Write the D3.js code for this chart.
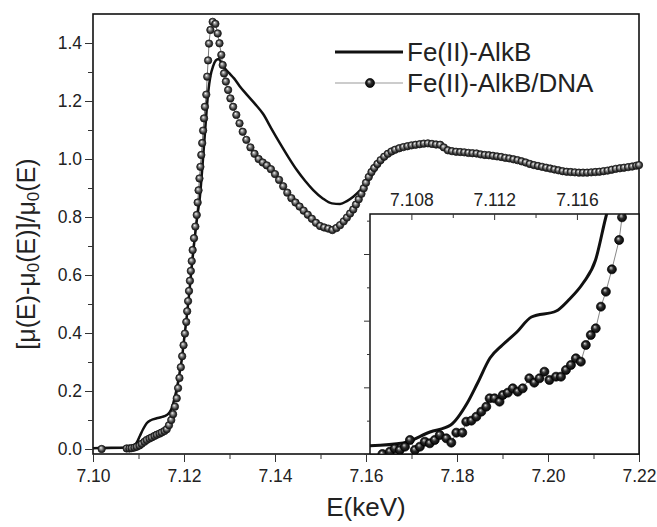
<!DOCTYPE html>
<html>
<head>
<meta charset="utf-8">
<script src="https://cdn.jsdelivr.net/npm/d3@7"></script>
<style>
  body { margin: 0; background: #fff; }
  text { font-family: "Liberation Sans", Arial, sans-serif; fill: #222; }
</style>
</head>
<body>
<div id="chart"></div>
<script>
// Fe(II)-AlkB (solid line), main panel
const alkbE = [7.1000, 7.1040, 7.1080, 7.1090, 7.1097, 7.1103, 7.1110, 7.1118, 7.1128, 7.1140,
  7.1152, 7.1162, 7.1169, 7.1175, 7.1180, 7.1185, 7.1190, 7.1195, 7.1200, 7.1206,
  7.1212, 7.1217, 7.1223, 7.1229, 7.1235, 7.1241, 7.1246, 7.1253, 7.1258, 7.1264,
  7.1270, 7.1276, 7.1282, 7.1290, 7.1300, 7.1310, 7.1322, 7.1338, 7.1356, 7.1374,
  7.1392, 7.1411, 7.1430, 7.1448, 7.1466, 7.1484, 7.1505, 7.1525, 7.1543, 7.1558,
  7.1572, 7.1587, 7.1601, 7.1620, 7.1638, 7.1660, 7.1690, 7.1715, 7.1741, 7.1763,
  7.1785, 7.1820, 7.1857, 7.1895, 7.1931, 7.1968, 7.2004, 7.2041, 7.2078, 7.2115,
  7.2151, 7.2200];
const alkbMu = [0.003, 0.004, 0.006, 0.012, 0.025, 0.045, 0.068, 0.089, 0.100, 0.106,
  0.111, 0.117, 0.128, 0.150, 0.180, 0.215, 0.260, 0.307, 0.375, 0.456,
  0.545, 0.629, 0.720, 0.800, 0.870, 0.985, 1.089, 1.227, 1.285, 1.320,
  1.340, 1.345, 1.333, 1.312, 1.295, 1.278, 1.252, 1.222, 1.190, 1.155,
  1.105, 1.054, 1.005, 0.962, 0.925, 0.893, 0.864, 0.847, 0.845, 0.855,
  0.870, 0.892, 0.916, 0.960, 0.997, 1.025, 1.042, 1.050, 1.054, 1.045,
  1.031, 1.020, 1.012, 1.002, 0.991, 0.978, 0.966, 0.960, 0.960, 0.963,
  0.968, 0.979];

// Fe(II)-AlkB/DNA (balls), main panel
const dnaE = [7.1019, 7.1074, 7.1080, 7.1085, 7.1091, 7.1096, 7.1102, 7.1107, 7.1113, 7.1118,
  7.1124, 7.1129, 7.1135, 7.1140, 7.1146, 7.1151, 7.1157, 7.1162, 7.1167, 7.1172,
  7.1176, 7.1180, 7.1184, 7.1187, 7.1190, 7.1193, 7.1196, 7.1199, 7.1202, 7.1205,
  7.1207, 7.1209, 7.1211, 7.1213, 7.1215, 7.1217, 7.1219, 7.1222, 7.1225, 7.1228,
  7.1230, 7.1232, 7.1234, 7.1236, 7.1238, 7.1240, 7.1242, 7.1244, 7.1246, 7.1249,
  7.1251, 7.1253, 7.1255, 7.1258, 7.1263, 7.1269, 7.1274, 7.1278, 7.1282, 7.1285,
  7.1288, 7.1292, 7.1297, 7.1302, 7.1308, 7.1315, 7.1322, 7.1329, 7.1337, 7.1346,
  7.1355, 7.1364, 7.1373, 7.1382, 7.1391, 7.1400, 7.1409, 7.1418, 7.1427, 7.1436,
  7.1445, 7.1454, 7.1463, 7.1472, 7.1481, 7.1490, 7.1499, 7.1508, 7.1517, 7.1526,
  7.1535, 7.1543, 7.1551, 7.1558, 7.1565, 7.1572, 7.1578, 7.1584, 7.1590, 7.1595,
  7.1600, 7.1606, 7.1612, 7.1618, 7.1625, 7.1632, 7.1640, 7.1648, 7.1656, 7.1664,
  7.1673, 7.1682, 7.1691, 7.1700, 7.1709, 7.1718, 7.1727, 7.1736, 7.1745, 7.1754,
  7.1763, 7.1771, 7.1780, 7.1789, 7.1798, 7.1807, 7.1816, 7.1825, 7.1834, 7.1843,
  7.1852, 7.1861, 7.1870, 7.1879, 7.1888, 7.1897, 7.1906, 7.1915, 7.1924, 7.1933,
  7.1942, 7.1951, 7.1960, 7.1969, 7.1978, 7.1987, 7.1996, 7.2005, 7.2014, 7.2023,
  7.2032, 7.2041, 7.2050, 7.2059, 7.2068, 7.2077, 7.2086, 7.2095, 7.2104, 7.2113,
  7.2122, 7.2131, 7.2140, 7.2149, 7.2158, 7.2167, 7.2176, 7.2185, 7.2194, 7.2200];
const dnaMu = [0.000, 0.002, 0.002, 0.003, 0.005, 0.008, 0.012, 0.018, 0.025, 0.031,
  0.036, 0.040, 0.045, 0.049, 0.053, 0.057, 0.062, 0.068, 0.082, 0.100,
  0.120, 0.146, 0.175, 0.210, 0.245, 0.282, 0.320, 0.358, 0.398, 0.438,
  0.475, 0.510, 0.545, 0.580, 0.614, 0.648, 0.686, 0.727, 0.767, 0.807,
  0.850, 0.892, 0.933, 0.973, 1.014, 1.055, 1.098, 1.140, 1.180, 1.222,
  1.284, 1.340, 1.398, 1.445, 1.473, 1.466, 1.433, 1.399, 1.359, 1.324,
  1.295, 1.267, 1.238, 1.209, 1.180, 1.152, 1.123, 1.094, 1.066, 1.040,
  1.018, 1.000, 0.988, 0.978, 0.965, 0.948, 0.928, 0.906, 0.884, 0.865,
  0.850, 0.836, 0.822, 0.808, 0.794, 0.780, 0.769, 0.764, 0.760, 0.755,
  0.762, 0.772, 0.785, 0.798, 0.812, 0.826, 0.843, 0.861, 0.880, 0.899,
  0.918, 0.938, 0.955, 0.969, 0.983, 0.996, 1.008, 1.018, 1.026, 1.032,
  1.037, 1.041, 1.044, 1.047, 1.049, 1.051, 1.053, 1.054, 1.052, 1.050,
  1.049, 1.040, 1.030, 1.027, 1.025, 1.024, 1.023, 1.021, 1.020, 1.019,
  1.016, 1.014, 1.013, 1.011, 1.009, 1.007, 1.004, 1.002, 0.999, 0.996,
  0.992, 0.988, 0.983, 0.979, 0.976, 0.973, 0.970, 0.967, 0.964, 0.961,
  0.958, 0.956, 0.955, 0.954, 0.953, 0.953, 0.953, 0.954, 0.955, 0.956,
  0.958, 0.960, 0.963, 0.966, 0.968, 0.970, 0.972, 0.974, 0.977, 0.979];

// inset (pre-edge), own scale
const insetAlkbE = [7.1058, 7.1076, 7.1089, 7.1099, 7.1107, 7.1112, 7.1118, 7.1124, 7.1131, 7.1138,
  7.1150, 7.1156, 7.1163, 7.1169, 7.1174, 7.1178];
const insetAlkbMu = [0.0048, 0.0066, 0.0132, 0.0174, 0.0306, 0.0426, 0.0576, 0.0654, 0.0732, 0.0822,
  0.0858, 0.0924, 0.1026, 0.1164, 0.1422, 0.1600];
const insetDnaE = [7.1066, 7.10696, 7.1072, 7.10744, 7.10769, 7.10793, 7.10817, 7.10841, 7.10865, 7.10889,
  7.10913, 7.10937, 7.10969, 7.10993, 7.11017, 7.11046, 7.11065, 7.11090, 7.11114, 7.11138,
  7.11162, 7.11178, 7.11202, 7.11226, 7.11242, 7.11266, 7.11290, 7.11314, 7.11338, 7.11370,
  7.11394, 7.11419, 7.11443, 7.11467, 7.11499, 7.11523, 7.11547, 7.11571, 7.11595, 7.11619,
  7.11643, 7.11667, 7.11691, 7.11716, 7.11740, 7.11769, 7.11804, 7.11818];
const insetDnaMu = [0.0000, 0.0014, 0.0034, 0.0024, 0.0044, 0.0084, 0.0024, 0.0044, 0.0074, 0.0064,
  0.0084, 0.0114, 0.0094, 0.0068, 0.0128, 0.0128, 0.0194, 0.0200, 0.0224, 0.0254,
  0.0284, 0.0334, 0.0334, 0.0314, 0.0354, 0.0368, 0.0394, 0.0374, 0.0394, 0.0454,
  0.0428, 0.0454, 0.0494, 0.0444, 0.0464, 0.0464, 0.0504, 0.0534, 0.0574, 0.0554,
  0.0654, 0.0714, 0.0754, 0.0884, 0.0974, 0.1108, 0.1284, 0.1420];

const xTicks = [7.10, 7.12, 7.14, 7.16, 7.18, 7.20, 7.22];
const xMinor = [7.11, 7.13, 7.15, 7.17, 7.19, 7.21];
const yTicks = [0, 0.2, 0.4, 0.6, 0.8, 1.0, 1.2, 1.4];
const yMinor = [0.1, 0.3, 0.5, 0.7, 0.9, 1.1, 1.3];
const insetXTicks = [7.108, 7.112, 7.116];
const insetXMinor = [7.110, 7.114, 7.118];
const insetYTicks = [0, 0.04, 0.08, 0.12];
const insetYMinor = [0.02, 0.06, 0.10, 0.14];
const seriesNames = ["Fe(II)-AlkB", "Fe(II)-AlkB/DNA"];

const width = 657, height = 527;
const margin = { top: 14, right: 18, bottom: 73, left: 93 };

const svg = d3.select("#chart").append("svg")
    .attr("width", width)
    .attr("height", height);

// ball markers: grey for the main panel, darker for inset and legend
const defs = svg.append("defs");
function ballGradient(id, stops) {
    const g = defs.append("radialGradient")
        .attr("id", id)
        .attr("cx", "50%").attr("cy", "50%").attr("r", "55%")
        .attr("fx", "38%").attr("fy", "32%");
    stops.forEach(s => g.append("stop").attr("offset", s[0]).attr("stop-color", s[1]));
}
ballGradient("ball", [["0%", "#ffffff"], ["22%", "#b0b0b0"], ["65%", "#404040"], ["100%", "#0a0a0a"]]);
ballGradient("ballDark", [["0%", "#ffffff"], ["14%", "#9a9a9a"], ["45%", "#2a2a2a"], ["100%", "#000"]]);

const x = d3.scaleLinear().domain([7.10, 7.22]).range([margin.left, width - margin.right]);
const y = d3.scaleLinear().domain([-0.0172, 1.5]).range([height - margin.bottom, margin.top]);

const alkb = alkbE.map((e, i) => ({ e, v: alkbMu[i] }));
const dna = dnaE.map((e, i) => ({ e, v: dnaMu[i] }));

// main frame
svg.append("rect")
    .attr("x", margin.left).attr("y", margin.top)
    .attr("width", width - margin.left - margin.right)
    .attr("height", height - margin.top - margin.bottom)
    .attr("fill", "none").attr("stroke", "#111").attr("stroke-width", 1.6);

const line = d3.line().x(d => x(d.e)).y(d => y(d.v)).curve(d3.curveMonotoneX);

svg.append("path").datum(dna)
    .attr("d", d3.line().x(d => x(d.e)).y(d => y(d.v)))
    .attr("fill", "none").attr("stroke", "#777").attr("stroke-width", 1);

svg.append("path").datum(alkb)
    .attr("d", line)
    .attr("fill", "none").attr("stroke", "#111").attr("stroke-width", 2.5);

svg.selectAll(".dot").data(dna).enter().append("circle")
    .attr("class", "dot")
    .attr("cx", d => x(d.e)).attr("cy", d => y(d.v))
    .attr("r", 3.7)
    .attr("fill", "url(#ball)")
    .attr("stroke", "#1a1a1a").attr("stroke-width", 0.8);

// axes
const xAxis = svg.append("g").attr("transform", `translate(0,${height - margin.bottom})`);
xAxis.call(d3.axisBottom(x).tickValues(xTicks).tickFormat(d3.format(".2f")).tickSize(8).tickPadding(8));
xAxis.append("g").call(d3.axisBottom(x).tickValues(xMinor).tickFormat("").tickSize(5));

const yAxis = svg.append("g").attr("transform", `translate(${margin.left},0)`);
yAxis.call(d3.axisLeft(y).tickValues(yTicks).tickFormat(d3.format(".1f")).tickSize(8).tickPadding(3));
yAxis.append("g").call(d3.axisLeft(y).tickValues(yMinor).tickFormat("").tickSize(5));

svg.selectAll(".domain").remove();
svg.selectAll(".tick line").attr("stroke", "#333").attr("stroke-width", 1);
svg.selectAll(".tick text").style("font-size", "17.5px").attr("fill", "#333");

// inset
const xi = d3.scaleLinear().domain([7.106, 7.119]).range([370, width - margin.right]);
const yi = d3.scaleLinear().domain([0, 0.144]).range([height - margin.bottom, 214]);

const inset = svg.append("g");
inset.append("clipPath").attr("id", "insetClip").append("rect")
    .attr("x", xi.range()[0]).attr("y", yi.range()[1])
    .attr("width", xi.range()[1] - xi.range()[0])
    .attr("height", yi.range()[0] - yi.range()[1]);

inset.append("rect")
    .attr("x", xi.range()[0]).attr("y", yi.range()[1])
    .attr("width", xi.range()[1] - xi.range()[0])
    .attr("height", yi.range()[0] - yi.range()[1])
    .attr("fill", "#fff").attr("stroke", "#111").attr("stroke-width", 1.5);

const insetAlkb = insetAlkbE.map((e, i) => ({ e, v: insetAlkbMu[i] }));
const insetDna = insetDnaE.map((e, i) => ({ e, v: insetDnaMu[i] }));

const plotI = inset.append("g").attr("clip-path", "url(#insetClip)");
plotI.append("path").datum(insetDna)
    .attr("d", d3.line().x(d => xi(d.e)).y(d => yi(d.v)))
    .attr("fill", "none").attr("stroke", "#888").attr("stroke-width", 1);
plotI.append("path").datum(insetAlkb)
    .attr("d", d3.line().x(d => xi(d.e)).y(d => yi(d.v)).curve(d3.curveMonotoneX))
    .attr("fill", "none").attr("stroke", "#111").attr("stroke-width", 3);
plotI.selectAll(".idot").data(insetDna).enter().append("circle")
    .attr("class", "idot")
    .attr("cx", d => xi(d.e)).attr("cy", d => yi(d.v))
    .attr("r", 4.5)
    .attr("fill", "url(#ballDark)")
    .attr("stroke", "#000").attr("stroke-width", 0.7);

const ixAxis = inset.append("g").attr("transform", `translate(0,${yi.range()[1]})`);
ixAxis.call(d3.axisTop(xi).tickValues(insetXTicks).tickFormat(d3.format(".3f")).tickSizeInner(-6).tickSizeOuter(0).tickPadding(8));
ixAxis.append("g").call(d3.axisTop(xi).tickValues(insetXMinor).tickFormat("").tickSizeInner(-4).tickSizeOuter(0));
const iyAxis = inset.append("g").attr("transform", `translate(${xi.range()[0]},0)`);
iyAxis.call(d3.axisLeft(yi).tickValues(insetYTicks).tickFormat("").tickSize(6));
iyAxis.append("g").call(d3.axisLeft(yi).tickValues(insetYMinor).tickFormat("").tickSize(3));
inset.selectAll(".domain").remove();
inset.selectAll(".tick line").attr("stroke", "#333").attr("stroke-width", 1);
inset.selectAll(".tick text").style("font-size", "17.5px").attr("fill", "#333");

// legend
const legend = svg.append("g");
legend.append("line").attr("x1", 335).attr("x2", 403).attr("y1", 52).attr("y2", 52)
    .attr("stroke", "#111").attr("stroke-width", 3);
legend.append("text").attr("x", 407).attr("y", 61).style("font-size", "26px").text(seriesNames[0]);
legend.append("line").attr("x1", 335).attr("x2", 403).attr("y1", 83).attr("y2", 83)
    .attr("stroke", "#999").attr("stroke-width", 1);
legend.append("circle").attr("cx", 370).attr("cy", 83).attr("r", 4.5)
    .attr("fill", "url(#ballDark)").attr("stroke", "#000").attr("stroke-width", 0.7);
legend.append("text").attr("x", 407).attr("y", 92).style("font-size", "26px").text(seriesNames[1]);

// axis titles
svg.append("text")
    .attr("x", (margin.left + width - margin.right) / 2)
    .attr("y", 516)
    .attr("text-anchor", "middle")
    .style("font-size", "26px")
    .text("E(keV)");

const yLabel = svg.append("text")
    .attr("transform", "translate(35,254) rotate(-90)")
    .attr("text-anchor", "middle")
    .style("font-size", "25px");
yLabel.append("tspan").text("[\u03bc(E)-\u03bc");
yLabel.append("tspan").attr("baseline-shift", "-25%").style("font-size", "17px").text("0");
yLabel.append("tspan").text("(E)]/\u03bc");
yLabel.append("tspan").attr("baseline-shift", "-25%").style("font-size", "17px").text("0");
yLabel.append("tspan").text("(E)");
</script>
</body>
</html>
